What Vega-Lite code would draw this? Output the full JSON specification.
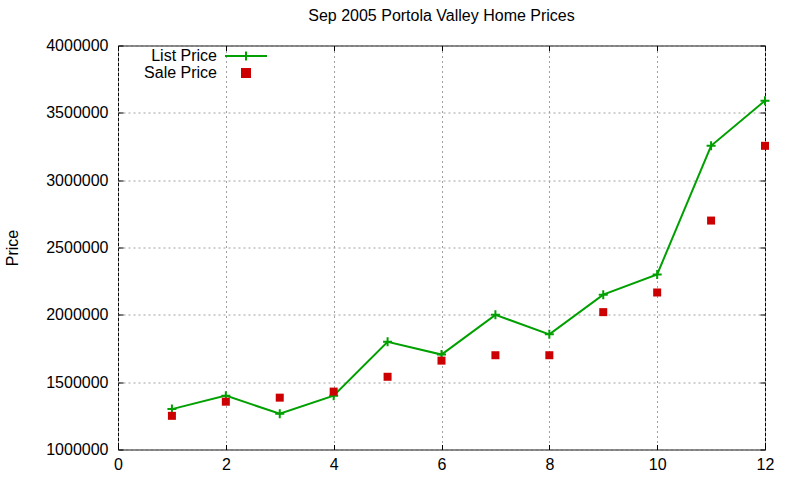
{
  "$schema": "https://vega.github.io/schema/vega-lite/v6.json",
  "width": 647,
  "height": 404,
  "autosize": "none",
  "padding": {"left": 118, "top": 45.5, "right": 35, "bottom": 30.5},
  "title": {
    "text": "Sep 2005 Portola Valley Home Prices",
    "font": "Liberation Sans",
    "fontSize": 16,
    "fontWeight": "normal",
    "color": "black",
    "offset": 14
  },
  "config": {
    "view": {"stroke": "black", "strokeWidth": 1},
    "axis": {
      "labelFont": "Liberation Sans",
      "labelFontSize": 16,
      "labelColor": "black",
      "titleFont": "Liberation Sans",
      "titleFontSize": 16,
      "titleFontWeight": "normal",
      "titleColor": "black",
      "tickColor": "black",
      "tickSize": -5,
      "domain": false,
      "gridColor": "#a0a0a0",
      "gridDash": [2, 3]
    },
    "legend": {
      "orient": "none",
      "legendX": 120,
      "legendY": 2.5,
      "padding": 0,
      "rowPadding": 0,
      "title": null,
      "labelFont": "Liberation Sans",
      "labelFontSize": 16,
      "labelColor": "black",
      "labelAlign": "right",
      "labelOffset": -37,
      "symbolSize": 100
    }
  },
  "data": {
    "values": [
      {"month": 1, "series": "List Price", "price": 1300000},
      {"month": 2, "series": "List Price", "price": 1400000},
      {"month": 3, "series": "List Price", "price": 1265000},
      {"month": 4, "series": "List Price", "price": 1400000},
      {"month": 5, "series": "List Price", "price": 1800000},
      {"month": 6, "series": "List Price", "price": 1705000},
      {"month": 7, "series": "List Price", "price": 2000000},
      {"month": 8, "series": "List Price", "price": 1855000},
      {"month": 9, "series": "List Price", "price": 2150000},
      {"month": 10, "series": "List Price", "price": 2300000},
      {"month": 11, "series": "List Price", "price": 3255000},
      {"month": 12, "series": "List Price", "price": 3590000},
      {"month": 1, "series": "Sale Price", "price": 1250000},
      {"month": 2, "series": "Sale Price", "price": 1355000},
      {"month": 3, "series": "Sale Price", "price": 1385000},
      {"month": 4, "series": "Sale Price", "price": 1430000},
      {"month": 5, "series": "Sale Price", "price": 1540000},
      {"month": 6, "series": "Sale Price", "price": 1660000},
      {"month": 7, "series": "Sale Price", "price": 1700000},
      {"month": 8, "series": "Sale Price", "price": 1700000},
      {"month": 9, "series": "Sale Price", "price": 2020000},
      {"month": 10, "series": "Sale Price", "price": 2166000},
      {"month": 11, "series": "Sale Price", "price": 2700000},
      {"month": 12, "series": "Sale Price", "price": 3255000}
    ]
  },
  "layer": [
    {
      "transform": [{"filter": "datum.series == 'List Price'"}],
      "mark": {"type": "line", "strokeWidth": 2},
      "encoding": {
        "x": {
          "field": "month",
          "type": "quantitative",
          "scale": {"domain": [0, 12], "nice": false},
          "axis": {
            "values": [0, 2, 4, 6, 8, 10, 12],
            "grid": true,
            "title": null,
            "labelPadding": 12,
            "labelFlush": false
          }
        },
        "y": {
          "field": "price",
          "type": "quantitative",
          "scale": {"domain": [1000000, 4000000], "nice": false, "zero": false},
          "axis": {
            "values": [1000000, 1500000, 2000000, 2500000, 3000000, 3500000, 4000000],
            "format": "d",
            "grid": true,
            "labelPadding": 15,
            "labelFlush": false,
            "title": "Price",
            "titleAngle": -90,
            "titleAlign": "center",
            "titleBaseline": "alphabetic",
            "titleX": -101,
            "titleY": 202
          }
        },
        "color": {
          "field": "series",
          "type": "nominal",
          "scale": {"domain": ["List Price", "Sale Price"], "range": ["#00a000", "#cc0000"]},
          "legend": {
            "encode": {
              "symbols": {
                "update": {
                  "shape": {"signal": "datum.value === 'List Price' ? 'M-4.2,0H4.2M0,-0.9V0.9' : 'square'"},
                  "size": {"signal": "datum.value === 'List Price' ? 100 : 64"},
                  "fill": {"signal": "datum.value === 'List Price' ? 'transparent' : '#cc0000'"},
                  "stroke": {"signal": "datum.value === 'List Price' ? '#00a000' : 'transparent'"},
                  "strokeWidth": {"value": 2},
                  "opacity": {"value": 1}
                }
              }
            }
          }
        }
      }
    },
    {
      "transform": [{"filter": "datum.series == 'List Price'"}],
      "mark": {"type": "point", "shape": "M-1,0H1M0,-1V1", "size": 81, "filled": false, "strokeWidth": 2, "opacity": 1},
      "encoding": {
        "x": {"field": "month", "type": "quantitative", "axis": null},
        "y": {"field": "price", "type": "quantitative", "axis": null},
        "color": {"field": "series", "type": "nominal"}
      }
    },
    {
      "transform": [{"filter": "datum.series == 'Sale Price'"}],
      "mark": {"type": "square", "size": 64, "filled": true, "opacity": 1},
      "encoding": {
        "x": {
          "field": "month",
          "type": "quantitative",
          "axis": {"orient": "top", "values": [0, 2, 4, 6, 8, 10, 12], "labels": false, "grid": false, "title": null}
        },
        "y": {
          "field": "price",
          "type": "quantitative",
          "axis": {
            "orient": "right",
            "values": [1000000, 1500000, 2000000, 2500000, 3000000, 3500000, 4000000],
            "labels": false,
            "grid": false,
            "title": null
          }
        },
        "color": {"field": "series", "type": "nominal"}
      }
    }
  ],
  "resolve": {"axis": {"x": "independent", "y": "independent"}}
}
